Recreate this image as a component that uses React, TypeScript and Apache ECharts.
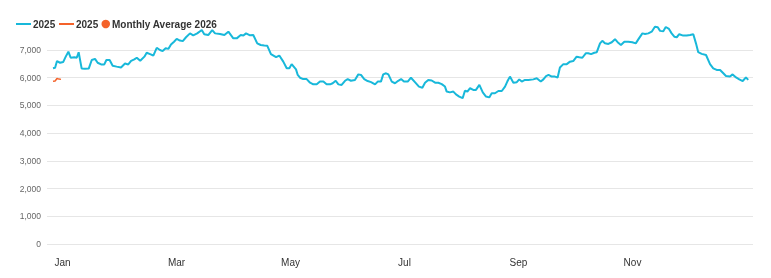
import React, { useEffect, useRef } from 'react';
import * as echarts from 'echarts';

// x positions are day-of-year (0 = Jan 1)
const days2025 = [0, 1.1, 2.1, 3.7, 5.4, 6.7, 8.1, 9.3, 11.2, 12.5, 13.5, 15.1, 16.8, 18.8, 20.4, 22.1, 23.5, 25.3, 27, 28.1, 29.8, 31.4, 33.5, 35.8, 37.9, 39.6, 41.1, 42.8, 44.1, 45.9, 48.1, 49.3, 51.1, 52.8, 54.6, 56.3, 57.7, 59.3, 60.7, 62.1, 63.7, 65.1, 66.8, 68.3, 70, 72.1, 73.8, 75.9, 78.3, 79.6, 81.7, 83.8, 85.3, 87.9, 90.2, 92.3, 94.9, 96.7, 98.8, 100.2, 101.6, 103.7, 105.4, 107.5, 109.3, 111.2, 112.8, 114.7, 117.4, 119.1, 121.2, 123, 124.4, 125.6, 127.9, 128.8, 130, 131.7, 133.5, 135.3, 137, 138.8, 140.5, 142.3, 144, 145.8, 147.2, 148.8, 150.2, 151.9, 153.7, 155.1, 156.8, 158.9, 160.7, 162.1, 163.8, 165.6, 167.4, 169.5, 170.9, 172.6, 173.8, 175.3, 176.5, 178.3, 180, 181.7, 183.2, 184.7, 186.7, 188.4, 190.5, 192.6, 194.4, 195.8, 197.5, 199.3, 201.1, 202.8, 204.6, 206.3, 207.2, 208.9, 210.7, 212.1, 213.8, 215.6, 216.8, 218.1, 219.5, 221.2, 222.6, 224.4, 226.2, 227.9, 229.6, 230.9, 232.6, 234.4, 236.2, 237.9, 239.1, 240.5, 242.3, 244.1, 245.4, 246.7, 248.4, 250.2, 252.8, 254.6, 256.7, 258.1, 259.5, 260.8, 262.5, 264.2, 265.6, 266.8, 268.6, 270.4, 272.1, 273.8, 275.6, 277, 278.6, 280.4, 281.7, 283.2, 284.9, 286.2, 287.9, 289.1, 290.5, 292.3, 294.1, 295.8, 297.5, 298.9, 300.7, 302.8, 304.9, 306.7, 308.4, 310.2, 311.6, 313.3, 315.1, 316.8, 318.3, 319.5, 321.2, 322.5, 324.2, 325.6, 327, 328.3, 329.6, 331.7, 333.5, 335.3, 337, 338.4, 339.6, 341.4, 343.7, 345.8, 347.5, 349.3, 351.1, 352.8, 354.2, 356.3, 357.7, 359.5, 361.2, 363, 364.7, 365.9];

const values2025 = [6340, 6360, 6600, 6540, 6570, 6760, 6940, 6720, 6740, 6720, 6920, 6330, 6320, 6330, 6640, 6680, 6540, 6480, 6480, 6640, 6640, 6430, 6400, 6370, 6510, 6480, 6610, 6660, 6720, 6610, 6760, 6900, 6850, 6800, 7080, 7000, 6960, 7060, 7040, 7200, 7300, 7400, 7340, 7320, 7460, 7600, 7530, 7600, 7720, 7570, 7540, 7720, 7600, 7580, 7540, 7660, 7420, 7420, 7540, 7520, 7600, 7530, 7540, 7240, 7180, 7160, 7150, 6850, 6740, 6800, 6580, 6340, 6340, 6490, 6300, 6100, 6000, 5950, 5950, 5820, 5760, 5760, 5860, 5860, 5760, 5760, 5800, 5890, 5760, 5740, 5890, 5950, 5890, 5920, 6120, 6100, 5950, 5880, 5840, 5760, 5860, 5860, 6120, 6160, 6120, 5860, 5800, 5890, 5950, 5860, 5860, 6000, 5840, 5680, 5640, 5820, 5920, 5900, 5820, 5820, 5770, 5680, 5500, 5470, 5500, 5400, 5320, 5260, 5530, 5500, 5620, 5560, 5560, 5740, 5470, 5320, 5290, 5440, 5440, 5520, 5520, 5680, 5860, 6040, 5820, 5840, 5940, 5860, 5920, 5920, 5940, 5980, 5860, 5940, 6060, 6100, 6040, 6040, 6010, 6370, 6490, 6490, 6580, 6600, 6760, 6740, 6720, 6880, 6880, 6850, 6900, 6920, 7240, 7330, 7240, 7220, 7280, 7390, 7260, 7180, 7300, 7300, 7280, 7240, 7420, 7600, 7580, 7600, 7660, 7840, 7820, 7690, 7680, 7830, 7760, 7600, 7480, 7460, 7570, 7520, 7520, 7540, 7570, 7240, 6920, 6860, 6820, 6490, 6340, 6280, 6280, 6160, 6060, 6040, 6120, 6010, 5940, 5880, 6010, 5920];

const days2026 = [0, 1.1, 2.1, 3.2, 4.2];
const values2026 = [5870, 5880, 5970, 5950, 5940];

const monthTicks = [5, 65, 125, 185, 245, 305];
const monthLabels = ['Jan', 'Mar', 'May', 'Jul', 'Sep', 'Nov'];

const CYAN = '#18b8da';
const ORANGE = '#f4622a';
const FONT = '"Liberation Sans", Arial, sans-serif';

export default function App() {
  const ref = useRef<HTMLDivElement>(null);
  useEffect(() => {
    const chart = echarts.init(ref.current!, null, { renderer: 'svg' });
    const legendText = { color: '#333', fontWeight: 'bold', fontSize: 10, fontFamily: FONT, padding: [0, 0, 0, -3] };
    const common = { top: 19, itemGap: 0, padding: 0, textStyle: legendText };
    chart.setOption({
      animation: false,
      textStyle: { fontFamily: FONT },
      grid: { left: 47, right: 18, top: 50, bottom: 34, containLabel: false, outerBoundsMode: 'none' },
      legend: [
        { ...common, left: 16, itemWidth: 15, itemHeight: 2, data: [{ name: '2025', icon: 'rect' }], formatter: (n: string) => n.trim() },
        { ...common, left: 59, itemWidth: 15, itemHeight: 2, data: [{ name: '2025 ', icon: 'rect' }], formatter: (n: string) => n.trim() },
        { ...common, left: 101.5, itemWidth: 8.5, itemHeight: 8.5, data: [{ name: 'Monthly Average 2026', icon: 'circle', itemStyle: { color: ORANGE, opacity: 1 } }] },
      ],
      xAxis: {
        type: 'value',
        min: -3.16,
        max: 368.42,
        axisLine: { show: false },
        axisTick: { show: false },
        splitLine: { show: false },
        axisLabel: {
          customValues: monthTicks,
          formatter: (v: number) => {
            let best = 0;
            monthTicks.forEach((t, i) => { if (Math.abs(t - v) < Math.abs(monthTicks[best] - v)) best = i; });
            return monthLabels[best];
          },
          color: '#333',
          fontSize: 10,
          fontFamily: FONT,
          margin: 13,
        },
      },
      yAxis: {
        type: 'value',
        min: 0,
        max: 7000,
        interval: 1000,
        axisLine: { show: false },
        axisTick: { show: false },
        splitLine: { lineStyle: { color: '#e6e6e6', width: 1 } },
        axisLabel: {
          color: '#666',
          fontSize: 8.5,
          fontFamily: FONT,
          margin: 6,
          formatter: (v: number) => v.toLocaleString('en-US'),
        },
      },
      series: [
        {
          name: '2025',
          type: 'line',
          data: days2025.map((d, i) => [d, values2025[i]]),
          symbol: 'none',
          clip: false,
          lineStyle: { color: CYAN, width: 2 },
          itemStyle: { color: CYAN },
        },
        {
          name: '2025 ',
          type: 'line',
          data: days2026.map((d, i) => [d, values2026[i]]),
          symbol: 'none',
          clip: false,
          lineStyle: { color: ORANGE, width: 1.5 },
          itemStyle: { color: ORANGE },
        },
        {
          name: 'Monthly Average 2026',
          type: 'scatter',
          data: [],
          symbol: 'circle',
          itemStyle: { color: ORANGE, opacity: 1 },
        },
      ],
    });
    return () => chart.dispose();
  }, []);
  return <div ref={ref} style={{ position: 'fixed', left: 0, top: 0, width: 771, height: 278 }} />;
}
